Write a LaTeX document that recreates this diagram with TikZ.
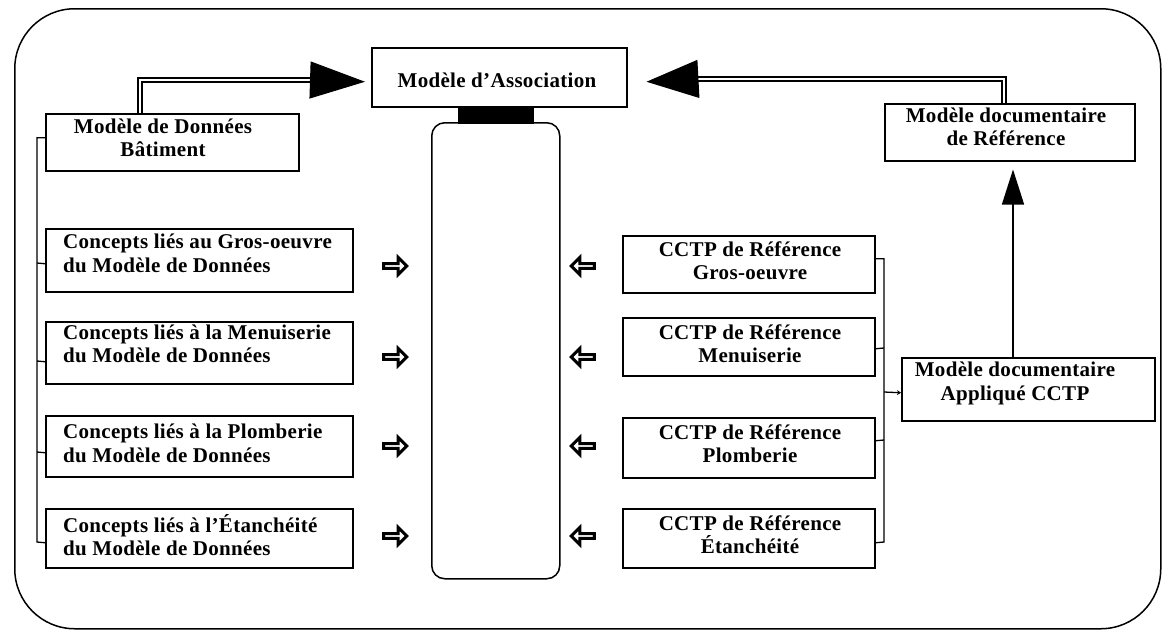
\documentclass[tikz,border=0pt]{standalone}
\usepackage{fontspec}
\setmainfont{Liberation Serif}[LetterSpace=1.5]
\usetikzlibrary{arrows.meta,shapes.arrows,calc}
\begin{document}
\begin{tikzpicture}[x=1pt,y=-1pt,
  box/.style={draw, line width=1.5pt, inner sep=0pt, anchor=north west},
  lbl/.style={font=\bfseries\fontsize{21}{23.5}\selectfont, inner sep=0pt, align=center},
  lbll/.style={lbl, align=left, anchor=west},
  bus/.style={line width=1.3pt},
  dbl/.style={double, double distance=2.6pt, line width=1.4pt},
  bighead/.style 2 args={-{Triangle[length=#1,width=#2]}, line width=1pt},
  blockr/.style={single arrow, draw, line width=3pt, fill=white, inner sep=0pt,
     minimum height=23pt, minimum width=17pt, single arrow head extend=3.8pt},
  blockl/.style={blockr, shape border rotate=180}
]
\useasboundingbox (0,0) rectangle (1166,635);

% outer frame
\node[box, rounded corners=60pt, minimum width=1146pt, minimum height=620pt] (frame) at (14,8) {};

% central elements
\node[box, minimum width=255pt, minimum height=59pt] (assoc) at (371,47) {};
\node[lbl] (assoc-t) at (497,80) {Modèle d'Association};
\node[box, fill=black, minimum width=74pt, minimum height=16pt] (joint) at (458,106) {};
\node[box, rounded corners=13pt, minimum width=128pt, minimum height=456pt] (col) at (431,122) {};

% left side
\node[box, minimum width=253pt, minimum height=57pt] (bat) at (45,113) {};
\node[lbl] (bat-t) at (163,138) {Modèle de Données\\Bâtiment};

\node[box, minimum width=307pt, minimum height=63pt] (c1) at (45,228) {};
\node[lbll] (c1-t) at (63,253.5) {Concepts liés au Gros-oeuvre\\du Modèle de Données};
\node[box, minimum width=307pt, minimum height=62pt] (c2) at (45,321) {};
\node[lbll] (c2-t) at (63,344) {Concepts liés à la Menuiserie\\du Modèle de Données};
\node[box, minimum width=307pt, minimum height=61pt] (c3) at (45,415) {};
\node[lbll] (c3-t) at (63,443.5) {Concepts liés à la Plomberie\\du Modèle de Données};
\node[box, minimum width=307pt, minimum height=59pt] (c4) at (45,508) {};
\node[lbll] (c4-t) at (63,535) {Concepts liés à l'Étanchéité\\du Modèle de Données};

% right side
\node[box, minimum width=250pt, minimum height=57pt] (ref) at (884,103) {};
\node[lbl] (ref-t) at (1006,127) {Modèle documentaire\\de Référence};
\node[box, minimum width=253pt, minimum height=63pt] (appl) at (901,357) {};
\node[lbl] (appl-t) at (1015,383.5) {Modèle documentaire\\Appliqué CCTP};

\node[box, minimum width=252pt, minimum height=57pt] (r1) at (622,235) {};
\node[lbl] (r1-t) at (750,260.5) {CCTP de Référence\\Gros-oeuvre};
\node[box, minimum width=252pt, minimum height=58pt] (r2) at (622,317) {};
\node[lbl] (r2-t) at (750,343.5) {CCTP de Référence\\Menuiserie};
\node[box, minimum width=252pt, minimum height=60pt] (r3) at (622,417) {};
\node[lbl] (r3-t) at (750,443.5) {CCTP de Référence\\Plomberie};
\node[box, minimum width=252pt, minimum height=59pt] (r4) at (622,508) {};
\node[lbl] (r4-t) at (750,534.5) {CCTP de Référence\\Étanchéité};

% block arrows
\node[blockr] (a1) at (394,266) {};
\node[blockr] (a2) at (394,357) {};
\node[blockr] (a3) at (394,446) {};
\node[blockr] (a4) at (394,536) {};
\node[blockl] (b1) at (584,266) {};
\node[blockl] (b2) at (584,357) {};
\node[blockl] (b3) at (584,446) {};
\node[blockl] (b4) at (584,536) {};

% left bus
\coordinate (lb) at (37,0);
\draw[bus] ($(bat.west)+(0,-4.5)$) -| (lb |- 0,542) -- ($(c4.west)+(0,4.5)$);
\draw[bus] (lb |- 0,263) -- ($(c1.west)+(0,3.5)$);
\draw[bus] (lb |- 0,361) -- ($(c2.west)+(0,9)$);
\draw[bus] (lb |- 0,452) -- ($(c3.west)+(0,6.5)$);

% right bus
\coordinate (rb) at (884,0);
\draw[bus] ($(r1.east)+(0,-5.5)$) -| (rb |- 0,542) -- ($(r4.east)+(0,4.5)$);
\draw[bus] ($(r2.east)+(0,2)$) -- (rb |- 0,348);
\draw[bus] ($(r3.east)+(0,-7)$) -- (rb |- 0,440);
\draw[bus, -{Stealth[length=4pt,width=5pt]}] (rb |- 0,392) -- ($(appl.west)+(0,3.5)$);

% big arrows to the association model
\coordinate (lhb) at (310,80);
\draw[dbl] ($(bat.north west)+(95,0)$) |- ($(lhb)+(4,0)$);
\draw[bighead={55pt}{37pt}] (lhb) -- ($(assoc.west)+(-6,4.5)$);

\coordinate (rhb) at (697,79);
\draw[dbl] ($(ref.north west)+(120,0)$) |- ($(rhb)+(-4,0)$);
\draw[bighead={52pt}{38pt}] (rhb) -- ($(assoc.east)+(19,4.5)$);

\draw[-{Triangle[length=35pt,width=22pt]}, line width=1.4pt] ($(appl.north west)+(112,0)$) -- ($(ref.south west)+(129,8)$);
\end{tikzpicture}
\end{document}
